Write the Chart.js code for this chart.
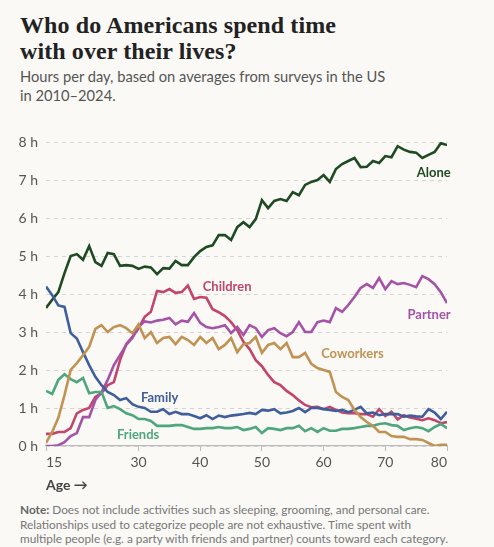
<!DOCTYPE html>
<html>
<head>
<meta charset="utf-8">
<script src="https://cdn.jsdelivr.net/npm/chart.js@4.4.1/dist/chart.umd.min.js"></script>
<style>
  html, body { margin: 0; padding: 0; background: #faf9f6; }
  body { width: 494px; height: 547px; position: relative; overflow: hidden; font-family: Lato, sans-serif; }
  h1 { position: absolute; left: 20px; top: 12px; margin: 0; font-family: "Liberation Serif", serif; font-weight: bold; font-size: 24px; line-height: 26px; color: #222; letter-spacing: 0.1px; }
  .sub { position: absolute; left: 20px; top: 67px; font-size: 14.7px; line-height: 19px; color: #555; }
  .age { position: absolute; left: 46px; top: 476px; font-size: 14px; font-weight: bold; color: #444; }
  .note { position: absolute; left: 20px; top: 503px; font-size: 11.8px; line-height: 14.5px; color: #777; }
  .note b { color: #666; }
  #wrap { position: absolute; left: 0; top: 120px; width: 494px; height: 380px; }
</style>
</head>
<body>
<h1>Who do Americans spend time<br>with over their lives?</h1>
<div class="sub">Hours per day, based on averages from surveys in the US<br>in 2010–2024.</div>
<div id="wrap"><canvas id="timeChart"></canvas></div>
<div class="age">Age →</div>
<div class="note"><b>Note:</b> Does not include activities such as sleeping, grooming, and personal care.<br>Relationships used to categorize people are not exhaustive. Time spent with<br>multiple people (e.g. a party with friends and partner) counts toward each category.</div>
<script>
"use strict";

// Ages 15 to 80
const ages = [15, 16, 17, 18, 19, 20, 21, 22, 23, 24, 25, 26, 27, 28, 29, 30, 31, 32, 33, 34, 35, 36,
  37, 38, 39, 40, 41, 42, 43, 44, 45, 46, 47, 48, 49, 50, 51, 52, 53, 54, 55, 56, 57, 58, 59, 60,
  61, 62, 63, 64, 65, 66, 67, 68, 69, 70, 71, 72, 73, 74, 75, 76, 77, 78, 79, 80];

const xTicks = [15, 30, 40, 50, 60, 70, 80];

// Hours per day
const alone = [3.63, 3.85, 4.05, 4.55, 5.0, 5.05, 4.9, 5.26, 4.84, 4.74, 5.08, 5.05, 4.74, 4.76, 4.74,
  4.66, 4.72, 4.7, 4.52, 4.68, 4.67, 4.87, 4.76, 4.76, 4.97, 5.13, 5.24, 5.28, 5.55, 5.55, 5.42,
  5.76, 5.89, 5.76, 5.97, 6.47, 6.26, 6.45, 6.5, 6.45, 6.68, 6.6, 6.87, 6.95, 7.0, 7.13, 6.95,
  7.29, 7.42, 7.5, 7.58, 7.34, 7.35, 7.5, 7.45, 7.63, 7.6, 7.89, 7.8, 7.74, 7.72, 7.58, 7.66,
  7.74, 7.97, 7.92];

const family = [4.2, 3.97, 3.7, 3.66, 2.97, 2.83, 2.47, 2.13, 1.82, 1.6, 1.42, 1.34, 1.21, 1.26, 1.1,
  1.03, 1.0, 0.9, 0.9, 0.97, 0.84, 0.9, 0.84, 0.84, 0.79, 0.73, 0.81, 0.71, 0.8, 0.76, 0.8,
  0.82, 0.84, 0.87, 0.84, 0.95, 0.93, 0.97, 0.86, 0.88, 0.92, 1.0, 0.89, 1.0, 1.0, 0.97, 0.95,
  0.92, 0.95, 0.89, 0.95, 1.03, 0.86, 0.88, 0.81, 0.84, 0.84, 0.84, 0.77, 0.8, 0.78, 0.77, 0.97,
  0.88, 0.71, 0.9];

const friends = [1.45, 1.37, 1.74, 1.89, 1.76, 1.68, 1.79, 1.39, 1.42, 1.42, 1.0, 1.05, 0.97, 0.86, 0.81,
  0.71, 0.71, 0.66, 0.53, 0.53, 0.53, 0.55, 0.55, 0.5, 0.45, 0.45, 0.47, 0.47, 0.5, 0.47, 0.47,
  0.5, 0.42, 0.45, 0.5, 0.34, 0.47, 0.45, 0.42, 0.47, 0.47, 0.53, 0.39, 0.47, 0.37, 0.47, 0.4,
  0.4, 0.45, 0.45, 0.47, 0.5, 0.53, 0.53, 0.58, 0.6, 0.55, 0.53, 0.42, 0.47, 0.5, 0.47, 0.39,
  0.5, 0.58, 0.47];

const coworkers = [0.08, 0.37, 0.74, 1.34, 2.0, 2.18, 2.39, 2.61, 3.08, 3.18, 3.0, 3.13, 3.18, 3.1, 2.97,
  3.2, 2.84, 3.0, 2.71, 2.84, 2.87, 2.68, 2.87, 2.79, 2.66, 2.87, 2.71, 2.84, 2.55, 2.66, 2.84,
  2.47, 2.68, 2.71, 2.87, 2.45, 2.66, 2.71, 2.55, 2.71, 2.34, 2.34, 2.45, 2.16, 2.05, 2.0, 1.95,
  1.42, 1.29, 1.21, 0.95, 0.76, 0.63, 0.53, 0.37, 0.37, 0.26, 0.24, 0.24, 0.18, 0.18, 0.16, 0.08,
  0.0, 0.03, 0.03];

const children = [0.32, 0.32, 0.37, 0.37, 0.47, 0.86, 0.95, 1.0, 1.29, 1.39, 1.6, 1.68, 2.26, 2.68, 2.87,
  3.1, 3.4, 3.53, 4.08, 4.05, 4.13, 4.03, 4.05, 4.22, 3.87, 3.92, 3.9, 3.6, 3.52, 3.42, 3.26,
  3.05, 2.74, 2.55, 2.26, 2.1, 1.87, 1.68, 1.6, 1.45, 1.34, 1.2, 1.08, 1.02, 1.03, 0.97, 1.03,
  0.95, 0.88, 0.86, 0.86, 0.84, 0.84, 0.77, 0.97, 0.79, 0.9, 0.7, 0.81, 0.75, 0.72, 0.68, 0.73,
  0.68, 0.6, 0.63];

const partner = [0.0, 0.0, 0.02, 0.1, 0.26, 0.34, 0.76, 0.76, 1.21, 1.42, 1.74, 2.13, 2.39, 2.66, 2.84,
  3.14, 3.28, 3.25, 3.3, 3.32, 3.37, 3.2, 3.3, 3.27, 3.5, 3.24, 3.13, 3.1, 3.13, 3.18, 2.97,
  3.13, 2.92, 3.18, 3.1, 2.87, 3.05, 3.1, 2.97, 2.89, 3.0, 3.26, 3.0, 3.0, 3.26, 3.3, 3.26,
  3.63, 3.53, 3.71, 3.92, 4.16, 4.26, 4.16, 4.42, 4.13, 4.34, 4.26, 4.29, 4.24, 4.18, 4.47, 4.39,
  4.26, 4.05, 3.76];

// name, values, colour, label position (age, hours, alignment)
const series = [
  { name: "Coworkers", values: coworkers, color: "#c09253", at: [59.6, 2.42, "left"] },
  { name: "Friends", values: friends, color: "#4ea67c", at: [26.5, 0.29, "left"] },
  { name: "Family", values: family, color: "#3f5e9c", at: [30.4, 1.26, "left"] },
  { name: "Partner", values: partner, color: "#a453a6", at: [80.6, 3.45, "right"] },
  { name: "Children", values: children, color: "#c2456b", at: [40.4, 4.2, "left"] },
  { name: "Alone", values: alone, color: "#1f4a22", at: [80.6, 7.2, "right"] }
];

const lineLabels = {
  id: "lineLabels",
  afterDatasetsDraw(chart) {
    const ctx = chart.ctx;
    const x = chart.scales.x;
    const y = chart.scales.y;
    ctx.save();
    ctx.font = "bold 13px Lato";
    ctx.textBaseline = "middle";
    series.forEach(s => {
      ctx.fillStyle = s.color;
      ctx.textAlign = s.at[2];
      ctx.fillText(s.name, x.getPixelForValue(s.at[0]), y.getPixelForValue(s.at[1]));
    });
    ctx.restore();
  }
};

new Chart(document.getElementById("timeChart"), {
  type: "line",
  data: {
    datasets: series.map(s => ({
      label: s.name,
      data: ages.map((a, i) => ({ x: a, y: s.values[i] })),
      borderColor: s.color,
      borderWidth: 2.6,
      pointRadius: 0,
      tension: 0,
      fill: false
    }))
  },
  options: {
    responsive: true,
    maintainAspectRatio: false,
    animation: false,
    layout: { padding: { left: 0, right: 47, top: 22, bottom: 24 } },
    plugins: { legend: { display: false }, tooltip: { enabled: false } },
    scales: {
      x: {
        type: "linear",
        min: 15,
        max: 80,
        afterBuildTicks: scale => { scale.ticks = xTicks.map(v => ({ value: v })); },
        afterFit: scale => { scale.height = 30; },
        ticks: { align: "inner", padding: 3, color: "#555", font: { family: "Lato", size: 14 } },
        grid: { drawOnChartArea: false, drawTicks: true, tickLength: 5, color: "#bbb" },
        border: { display: true, color: "#bbb", width: 1.2 }
      },
      y: {
        min: 0,
        max: 8,
        afterFit: scale => { scale.width = 46; },
        ticks: {
          stepSize: 1,
          padding: 8,
          color: "#555",
          font: { family: "Lato", size: 14 },
          callback: v => v + " h"
        },
        grid: { drawTicks: false, color: "#d4d4d4", lineWidth: 1 },
        border: { display: false, dash: [4, 4] }
      }
    }
  },
  plugins: [lineLabels]
});
</script>
</body>
</html>
